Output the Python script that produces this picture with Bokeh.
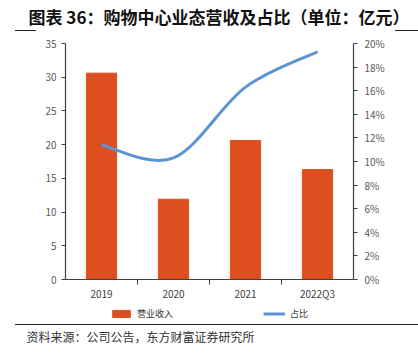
from bokeh.plotting import figure
from bokeh.layouts import column, row
from bokeh.models import Range1d, LinearAxis, FixedTicker, Legend, LegendItem, Title, Div
from bokeh.embed import file_html
from bokeh.resources import INLINE

categories = ["2019", "2020", "2021", "2022Q3"]
revenue = [30.6, 11.9, 20.6, 16.3]          # 营业收入 (亿元)
share = [11.4, 10.3, 16.3, 19.3]            # 占比 (%)
left_ticks = [0, 5, 10, 15, 20, 25, 30, 35]
right_ticks = [0, 2, 4, 6, 8, 10, 12, 14, 16, 18, 20]
series_names = ["营业收入", "占比"]
title_text = "图表 36：购物中心业态营收及占比（单位：亿元）"
source_text = "资料来源：公司公告，东方财富证券研究所"

FONT = "Noto Sans CJK SC"
BAR_COLOR = "#DD4F1F"
LINE_COLOR = "#5B93D6"
AXIS_COLOR = "#404040"
LABEL_COLOR = "#595959"
RULE_COLOR = "#222222"
W = 418


def strip(h, top=0, bottom=0, y_range=(0, 1)):
    f = figure(width=W, height=h, output_backend="svg", toolbar_location=None,
               x_range=Range1d(-0.5, len(categories) - 0.5), y_range=Range1d(*y_range),
               x_axis_type=None, y_axis_type=None,
               min_border_left=65, min_border_right=65,
               min_border_top=top, min_border_bottom=bottom)
    f.grid.visible = False
    f.outline_line_color = None
    return f


def seg(left, width):
    return Div(width=width, height=1, margin=(0, 0, 0, left),
               styles={"background-color": RULE_COLOR})


# ---------- title strip ----------
top = strip(30, top=23)
top.add_layout(Title(text=title_text, align="left", offset=-37, standoff=2,
                     text_font=FONT, text_font_size="17px", text_font_style="bold",
                     text_color="#111111"), "above")
top_rule = row(seg(15, 21), seg(359, 23), spacing=0)

# ---------- main chart ----------
xs = list(range(len(categories)))
p = figure(width=W, height=277, output_backend="svg", toolbar_location=None,
           x_range=Range1d(-0.5, len(categories) - 0.5), y_range=Range1d(0, 35),
           min_border_left=65, min_border_right=65, min_border_top=12, min_border_bottom=29)
p.extra_y_ranges = {"pct": Range1d(0, 20)}
p.outline_line_color = None
p.grid.grid_line_color = None

bar_style = dict(width=0.42, fill_color=BAR_COLOR, line_color=BAR_COLOR)
bars = p.vbar(x=xs, top=revenue, **bar_style)

# smooth line (Catmull-Rom style Bezier, computed from the data points)
n = len(share)
pts = list(zip(xs, share))
x0s, y0s, x1s, y1s, cx0, cy0, cx1, cy1 = [], [], [], [], [], [], [], []
for i in range(n - 1):
    pm = pts[max(i - 1, 0)]
    p0 = pts[i]
    p1 = pts[i + 1]
    p2 = pts[min(i + 2, n - 1)]
    x0s.append(p0[0]); y0s.append(p0[1]); x1s.append(p1[0]); y1s.append(p1[1])
    cx0.append(p0[0] + (p1[0] - pm[0]) / 6); cy0.append(p0[1] + (p1[1] - pm[1]) / 6)
    cx1.append(p1[0] - (p2[0] - p0[0]) / 6); cy1.append(p1[1] - (p2[1] - p0[1]) / 6)
p.bezier(x0=x0s, y0=y0s, x1=x1s, y1=y1s, cx0=cx0, cy0=cy0, cx1=cx1, cy1=cy1,
         line_color=LINE_COLOR, line_width=3, y_range_name="pct")

xa = p.xaxis[0]
xa.ticker = FixedTicker(ticks=xs, minor_ticks=[0.5, 1.5, 2.5])
xa.major_label_overrides = {i: c for i, c in enumerate(categories)}
xa.major_tick_out = 0
xa.major_tick_in = 0
xa.minor_tick_in = 0
xa.minor_tick_out = 5
xa.minor_tick_line_color = AXIS_COLOR
xa.major_label_standoff = 1
ya = p.yaxis[0]
ya.ticker = FixedTicker(ticks=left_ticks)
ya.minor_tick_line_color = None
ya.major_tick_in = 0
ya.major_tick_out = 4

ra = LinearAxis(y_range_name="pct", ticker=FixedTicker(ticks=right_ticks))
ra.major_label_overrides = {t: f"{t}%" for t in right_ticks}
ra.minor_tick_line_color = None
ra.major_tick_in = 0
ra.major_tick_out = 4
ra.major_label_standoff = 7
p.add_layout(ra, "right")

for ax in [xa, ya, ra]:
    ax.axis_line_color = AXIS_COLOR
    ax.axis_line_width = 1.2
    ax.major_tick_line_color = AXIS_COLOR
    ax.major_label_text_font = FONT
    ax.major_label_text_font_size = "10px"
    ax.major_label_text_color = LABEL_COLOR
xa.major_tick_line_color = None
xa.major_label_text_color = "#404040"

# ---------- legend strip (same series, y range kept out of view so only the legend shows) ----------
leg = strip(16, y_range=(1000, 1001))
leg_bar = leg.vbar(x=xs, top=revenue, **bar_style)
leg_line = leg.line(x=xs, y=share, line_color=LINE_COLOR, line_width=3)
legend = Legend(items=[LegendItem(label=series_names[0], renderers=[leg_bar]),
                       LegendItem(label=series_names[1], renderers=[leg_line])],
                orientation="horizontal", location=(45, 4),
                label_text_font=FONT, label_text_font_size="9px", label_text_color="#333333",
                label_standoff=5, spacing=90, glyph_width=22, glyph_height=9,
                border_line_color=None, background_fill_alpha=0, padding=0, margin=0)
leg.add_layout(legend, "center")

# ---------- source strip ----------
src = strip(32, top=16)
src.add_layout(Title(text=source_text, align="left", offset=-39, standoff=0,
                     text_font=FONT, text_font_size="12px", text_font_style="normal",
                     text_color="#333333"), "above")

layout = column(top, top_rule, p, leg, seg(15, 403), src, spacing=0)
open("out.html", "w").write(file_html(layout, INLINE))
